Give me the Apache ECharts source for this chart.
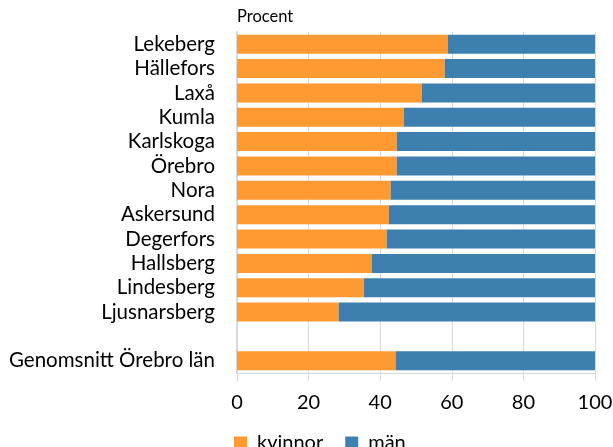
<!DOCTYPE html>
<html>
<head>
<meta charset="utf-8">
<script src="https://cdn.jsdelivr.net/npm/echarts@6/dist/echarts.min.js"></script>
<style>
html,body{margin:0;padding:0;background:#fff;}
#chart{width:613px;height:447px;}
</style>
</head>
<body>
<div id="chart"></div>
<script>
const categories = ['Lekeberg','Hällefors','Laxå','Kumla','Karlskoga','Örebro','Nora','Askersund','Degerfors','Hallsberg','Lindesberg','Ljusnarsberg','','Genomsnitt Örebro län'];
const kvinnor = [58.9, 58.0, 51.6, 46.6, 44.6, 44.6, 42.9, 42.4, 41.8, 37.6, 35.4, 28.4, null, 44.3];
const man = [41.1, 42.0, 48.4, 53.4, 55.4, 55.4, 57.1, 57.6, 58.2, 62.4, 64.6, 71.6, null, 55.7];
const xTicks = [0, 20, 40, 60, 80, 100];
const seriesNames = ['kvinnor', 'män'];
const unitLabel = 'Procent';

const FONT = 'Lato';
const chart = echarts.init(document.getElementById('chart'), null, {renderer: 'canvas'});
chart.setOption({
  animation: false,
  textStyle: {fontFamily: FONT, color: '#000'},
  grid: {left: 237, right: 18, top: 32, bottom: 74, containLabel: false, outerBoundsMode: 'none'},
  graphic: [{
    type: 'text', left: 237, top: 8,
    style: {text: unitLabel, font: '16.5px ' + FONT, fill: '#000'}
  }],
  legend: {
    left: 234, top: 433, padding: 0,
    itemWidth: 13, itemHeight: 13, itemGap: 22,
    icon: 'rect',
    textStyle: {fontSize: 20, fontFamily: FONT, color: '#000', padding: [0,0,0,5]},
    data: seriesNames
  },
  xAxis: {
    type: 'value', min: xTicks[0], max: xTicks[xTicks.length-1], interval: 20,
    axisLine: {show: true, lineStyle: {color: '#d9d9d9', width: 1}},
    axisTick: {show: true, length: 8, lineStyle: {color: '#d9d9d9'}},
    splitLine: {show: true, lineStyle: {color: '#d9d9d9', width: 1}},
    axisLabel: {fontSize: 20, color: '#000', margin: 20, fontFamily: FONT}
  },
  yAxis: {
    type: 'category', inverse: true, data: categories,
    axisLine: {show: true, lineStyle: {color: '#d9d9d9', width: 2}},
    axisTick: {show: false},
    axisLabel: {fontSize: 20.5, color: '#000', margin: 22, fontFamily: FONT, interval: 0}
  },
  series: [
    {name: seriesNames[0], type: 'bar', stack: 's', data: kvinnor, barWidth: 19,
     itemStyle: {color: '#FF9A33'}},
    {name: seriesNames[1], type: 'bar', stack: 's', data: man, barWidth: 19,
     itemStyle: {color: '#3D80AF'}}
  ]
});
</script>
</body>
</html>
